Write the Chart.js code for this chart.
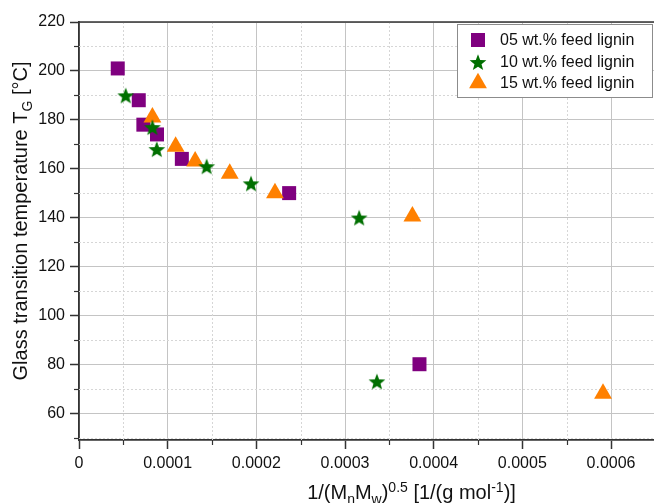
<!DOCTYPE html>
<html>
<head>
<meta charset="utf-8">
<script src="https://cdn.jsdelivr.net/npm/chart.js@4.4.1/dist/chart.umd.min.js"></script>
<style>
  html, body { margin: 0; padding: 0; overflow: hidden; background: #fff; }
  #wrap { width: 760px; height: 503px; }
</style>
</head>
<body>
<div id="wrap"><canvas id="c" width="760" height="503"></canvas></div>
<script>
// Series names
const seriesNames = ['05 wt.% feed lignin', '10 wt.% feed lignin', '15 wt.% feed lignin'];

// 05 wt.% feed lignin
const lignin05X = [0.0000437, 0.0000674, 0.0000726, 0.0000880, 0.000116, 0.000237, 0.000384];
const lignin05Y = [201, 188, 178, 174, 164, 150, 80];

// 10 wt.% feed lignin
const lignin10X = [0.0000527, 0.0000828, 0.0000877, 0.000144, 0.000194, 0.000316, 0.000336];
const lignin10Y = [190, 177, 168, 161, 154, 140, 73];

// 15 wt.% feed lignin
const lignin15X = [0.0000828, 0.000109, 0.000131, 0.000170, 0.000221, 0.000376, 0.000591];
const lignin15Y = [181, 169, 163, 158, 150, 140.5, 68];

// Axis ticks
const xMajorTicks = [0, 0.0001, 0.0002, 0.0003, 0.0004, 0.0005, 0.0006, 0.0007];
const xTickLabels = ['0', '0.0001', '0.0002', '0.0003', '0.0004', '0.0005', '0.0006', '0.0007'];
const xMinorTicks = [0.00005, 0.00015, 0.00025, 0.00035, 0.00045, 0.00055, 0.00065, 0.00075];
const yMajorTicks = [60, 80, 100, 120, 140, 160, 180, 200, 220];
const yMinorTicks = [50, 70, 90, 110, 130, 150, 170, 190, 210];

const COLORS = ['#7f007f', '#006f00', '#ff8000'];
const FONT = '"Liberation Sans", Arial, Helvetica, sans-serif';
const AXIS_COLOR = '#333333';

function toPoints(xs, ys) { return xs.map((x, i) => ({ x: x, y: ys[i] })); }

// Filled five-pointed star used as a point style
function makeStar(color, R) {
  const s = Math.ceil(R * 2 + 2);
  const c = document.createElement('canvas');
  c.width = s; c.height = s;
  const g = c.getContext('2d');
  g.fillStyle = color;
  g.beginPath();
  for (let i = 0; i < 10; i++) {
    const r = i % 2 ? R * 0.42 : R;
    const a = -Math.PI / 2 + i * Math.PI / 5;
    g.lineTo(s / 2 + r * Math.cos(a), s / 2 + 1 + r * Math.sin(a));
  }
  g.closePath();
  g.fill();
  return c;
}
const starImg = makeStar(COLORS[1], 8.8);

// Minor grid lines (dotted) under the data
const minorGrid = {
  id: 'minorGrid',
  beforeDatasetsDraw(chart) {
    const { ctx, chartArea: a, scales: { x, y } } = chart;
    ctx.save();
    ctx.strokeStyle = '#d6d6d6';
    ctx.lineWidth = 1;
    ctx.setLineDash([2, 2]);
    xMinorTicks.forEach(v => {
      const px = Math.round(x.getPixelForValue(v)) + 0.5;
      if (px <= a.left || px >= a.right) return;
      ctx.beginPath(); ctx.moveTo(px, a.top); ctx.lineTo(px, a.bottom); ctx.stroke();
    });
    yMinorTicks.forEach(v => {
      const py = Math.round(y.getPixelForValue(v)) + 0.5;
      if (py <= a.top || py >= a.bottom) return;
      ctx.beginPath(); ctx.moveTo(a.left, py); ctx.lineTo(a.right, py); ctx.stroke();
    });
    ctx.restore();
  }
};

// Draws a run of text pieces with sub/superscripts, centred on (0,0)
function drawRichText(ctx, parts, size) {
  const small = Math.round(size * 0.68);
  let total = 0;
  parts.forEach(p => {
    ctx.font = (p.s ? small : size) + 'px ' + FONT;
    p.w = ctx.measureText(p.t).width;
    total += p.w;
  });
  let cx = -total / 2;
  ctx.textBaseline = 'alphabetic';
  ctx.textAlign = 'left';
  parts.forEach(p => {
    ctx.font = (p.s ? small : size) + 'px ' + FONT;
    let dy = size * 0.36;
    if (p.s === 'sub') dy += size * 0.22;
    if (p.s === 'sup') dy -= size * 0.38;
    ctx.fillText(p.t, cx, dy);
    cx += p.w;
  });
}

// Frame, minor tick marks, axis titles and legend
const decorations = {
  id: 'decorations',
  afterDraw(chart) {
    const { ctx, chartArea: a, scales: { x, y } } = chart;
    ctx.save();
    ctx.strokeStyle = AXIS_COLOR;
    ctx.lineWidth = 1.5;
    // top frame line
    ctx.beginPath(); ctx.moveTo(a.left, a.top); ctx.lineTo(a.right, a.top); ctx.stroke();
    // minor tick marks
    ctx.lineWidth = 1.2;
    xMinorTicks.forEach(v => {
      const px = Math.round(x.getPixelForValue(v)) + 0.5;
      ctx.beginPath(); ctx.moveTo(px, a.bottom); ctx.lineTo(px, a.bottom + 5); ctx.stroke();
    });
    yMinorTicks.forEach(v => {
      const py = Math.round(y.getPixelForValue(v)) + 0.5;
      if (py >= a.bottom) return;
      ctx.beginPath(); ctx.moveTo(a.left - 5, py); ctx.lineTo(a.left, py); ctx.stroke();
    });

    // axis titles
    ctx.fillStyle = '#111';
    ctx.save();
    ctx.translate((a.left + a.right) / 2, 492);
    drawRichText(ctx, [
      { t: '1/(M' }, { t: 'n', s: 'sub' }, { t: 'M' }, { t: 'w', s: 'sub' }, { t: ')' },
      { t: '0.5', s: 'sup' }, { t: ' [1/(g mol' }, { t: '-1', s: 'sup' }, { t: ')]' }
    ], 20);
    ctx.restore();
    ctx.save();
    ctx.translate(20, (a.top + a.bottom) / 2 - 10);
    ctx.rotate(-Math.PI / 2);
    drawRichText(ctx, [
      { t: 'Glass transition temperature T' }, { t: 'G', s: 'sub' }, { t: ' [°C]' }
    ], 20);
    ctx.restore();

    // legend
    const lx = 457, ly = 24, lw = 195, lh = 73;
    ctx.fillStyle = '#fff';
    ctx.fillRect(lx, ly, lw, lh);
    ctx.strokeStyle = '#8c8c8c';
    ctx.lineWidth = 1;
    ctx.strokeRect(lx + 0.5, ly + 0.5, lw, lh);
    const rows = [40, 62, 83];
    const mx = 478;
    // square
    ctx.fillStyle = COLORS[0];
    ctx.fillRect(mx - 7, rows[0] - 7, 14, 14);
    // star
    ctx.drawImage(starImg, mx - starImg.width / 2, rows[1] - starImg.height / 2);
    // triangle
    ctx.fillStyle = COLORS[2];
    const r = 10.3;
    ctx.beginPath();
    ctx.moveTo(mx, rows[2] - r);
    ctx.lineTo(mx + Math.sin(2 * Math.PI / 3) * r, rows[2] + r / 2);
    ctx.lineTo(mx - Math.sin(2 * Math.PI / 3) * r, rows[2] + r / 2);
    ctx.closePath();
    ctx.fill();
    ctx.fillStyle = '#111';
    ctx.font = '16px ' + FONT;
    ctx.textBaseline = 'middle';
    ctx.textAlign = 'left';
    seriesNames.forEach((n, i) => ctx.fillText(n, 500, rows[i] + 1));
    ctx.restore();
  }
};

new Chart(document.getElementById('c'), {
  type: 'scatter',
  data: {
    datasets: [
      { label: seriesNames[0], data: toPoints(lignin05X, lignin05Y), pointStyle: 'rect',
        pointRadius: 9.9, pointBackgroundColor: COLORS[0], pointBorderWidth: 0, order: 2 },
      { label: seriesNames[1], data: toPoints(lignin10X, lignin10Y), pointStyle: starImg,
        pointRadius: 9, pointBackgroundColor: COLORS[1], pointBorderWidth: 0, order: 0 },
      { label: seriesNames[2], data: toPoints(lignin15X, lignin15Y), pointStyle: 'triangle',
        pointRadius: 10.3, pointBackgroundColor: COLORS[2], pointBorderWidth: 0, order: 1 }
    ]
  },
  options: {
    responsive: false,
    animation: false,
    devicePixelRatio: 1,
    layout: { padding: { top: 22, right: 16, left: 0, bottom: 0 } },
    plugins: { legend: { display: false }, tooltip: { enabled: false } },
    scales: {
      x: {
        type: 'linear', min: 0, max: 0.00075,
        afterBuildTicks: s => { s.ticks = xMajorTicks.map(v => ({ value: v })); },
        afterFit: s => { s.height = 63; },
        ticks: {
          autoSkip: false, maxRotation: 0, padding: 5,
          color: '#111', font: { family: FONT, size: 16 },
          callback: v => xTickLabels[xMajorTicks.indexOf(v)]
        },
        grid: { color: '#c4c4c4', lineWidth: 1, tickLength: 9, tickColor: AXIS_COLOR, tickWidth: 1.5 },
        border: { display: true, color: AXIS_COLOR, width: 1.8 }
      },
      y: {
        type: 'linear', min: 49, max: 220,
        afterBuildTicks: s => { s.ticks = yMajorTicks.map(v => ({ value: v })); },
        afterFit: s => { s.width = 79; },
        ticks: {
          autoSkip: false, padding: 5,
          color: '#111', font: { family: FONT, size: 16 },
          callback: v => String(v)
        },
        grid: { color: '#c4c4c4', lineWidth: 1, tickLength: 9, tickColor: AXIS_COLOR, tickWidth: 1.5 },
        border: { display: true, color: AXIS_COLOR, width: 1.8 }
      }
    }
  },
  plugins: [minorGrid, decorations]
});
</script>
</body>
</html>
